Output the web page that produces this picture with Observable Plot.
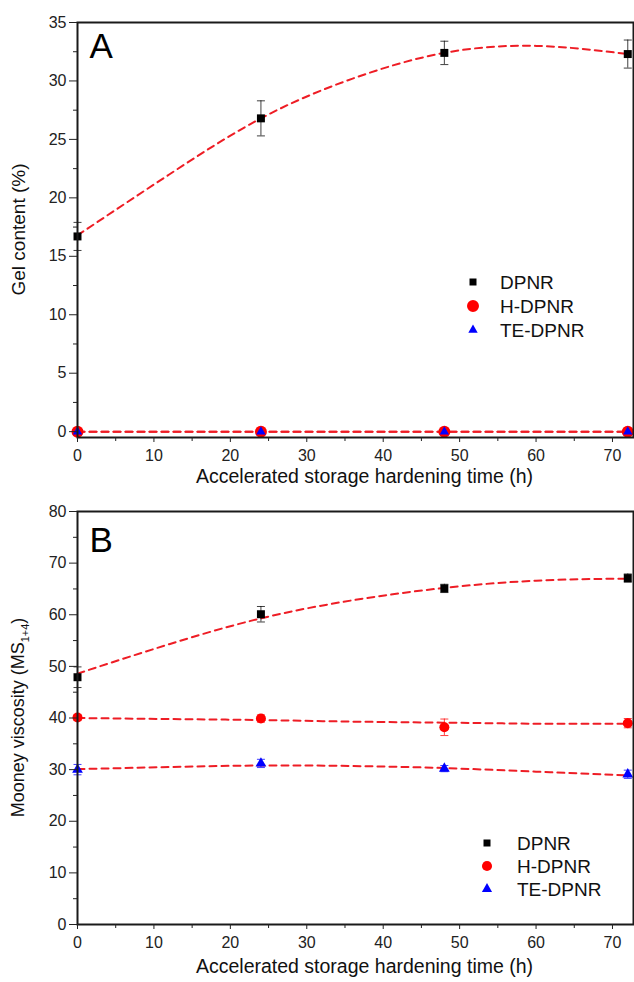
<!DOCTYPE html>
<html>
<head>
<meta charset="utf-8">
<script src="https://cdn.jsdelivr.net/npm/d3@7"></script>
<script src="https://cdn.jsdelivr.net/npm/@observablehq/plot@0.6"></script>
<style>
  body { margin: 0; background: white; }
  #wrap { width: 634px; }
  svg { display: block; }
</style>
</head>
<body>
<div id="wrap"><div id="a"></div><div id="b"></div></div>
<script>
// ---------- data ----------
const times = [0, 24, 48, 72];
const seriesNames = ["DPNR", "H-DPNR", "TE-DPNR"];
const seriesColors = ["#000000", "#ff0000", "#0000ff"];

// Panel A: gel content (%)
const gelDPNR = [16.7, 26.8, 32.4, 32.3];
const gelDPNRErr = [1.2, 1.5, 1.0, 1.2];
const gelH = [0, 0, 0, 0];
const gelHErr = [0, 0, 0, 0];
const gelTE = [0, 0, 0, 0];
const gelTEErr = [0, 0, 0, 0];

// Panel B: Mooney viscosity
const mooDPNR = [47.9, 60.1, 65.1, 67.1];
const mooDPNRErr = [2.0, 1.5, 0.8, 0.8];
const mooH = [40.1, 39.9, 38.2, 39.0];
const mooHErr = [0.6, 0.7, 1.6, 0.9];
const mooTE = [30.0, 31.2, 30.2, 29.1];
const mooTEErr = [1.0, 0.8, 0.6, 0.8];

// fitted (dashed) curves
const fitX = [0, 12, 24, 36, 48, 60, 72];
const fitGelDPNR = [16.8, 22.0, 26.8, 30.2, 32.4, 33.0, 32.3];
const fitGelH = [0, 0, 0, 0, 0, 0, 0];
const fitGelTE = [0, 0, 0, 0, 0, 0, 0];
const fitMooDPNR = [48.6, 54.3, 59.3, 62.8, 65.2, 66.6, 67.0];
const fitMooH = [40.0, 39.8, 39.6, 39.3, 39.1, 38.9, 38.9];
const fitMooTE = [30.1, 30.5, 30.8, 30.7, 30.3, 29.6, 28.9];

// ticks
const xTicks = [0, 10, 20, 30, 40, 50, 60, 70];
const xMinorTicks = [5, 15, 25, 35, 45, 55, 65];
const yTicksA = [0, 5, 10, 15, 20, 25, 30, 35];
const yMinorTicksA = [2.5, 7.5, 12.5, 17.5, 22.5, 27.5, 32.5];
const yTicksB = [0, 10, 20, 30, 40, 50, 60, 70, 80];
const yMinorTicksB = [5, 15, 25, 35, 45, 55, 65, 75];

const xLabel = "Accelerated storage hardening time (h)";
const yLabelA = "Gel content (%)";
const yLabelB = "Mooney viscosity (MS";
const yLabelBSub = "1+4";
const yLabelBEnd = ")";

// ---------- helpers ----------
const FONT = "'Liberation Sans', Arial, sans-serif";
const symbols = ["square", "circle", "triangle"];

function rows(vals, errs, idx) {
  return times.map((t, i) => ({ t, v: vals[i], e: errs[i], s: idx }));
}
function fitRows(vals, idx) {
  return fitX.map((t, i) => ({ t, v: vals[i], s: idx }));
}
const capSymbol = { draw(ctx) { ctx.moveTo(-4, 0); ctx.lineTo(4, 0); } };

function panel(opts) {
  const { points, fits, yDomain, yTicks, yMinor, height, mt, mb, letter, letterDy, radii, xLabelDy } = opts;
  const withErr = points.filter(d => d.e > 0);
  const marks = [];
  for (const f of fits) {
    marks.push(Plot.line(f, { x: "t", y: "v", curve: "natural", stroke: "#ee1d25", strokeWidth: 2, strokeDasharray: "7,5" }));
  }
  marks.push(Plot.ruleX(withErr, { x: "t", y1: d => d.v - d.e, y2: d => d.v + d.e, stroke: d => seriesColors[d.s], strokeWidth: 1, strokeOpacity: 0.75 }));
  marks.push(Plot.dot(withErr, { x: "t", y: d => d.v + d.e, symbol: capSymbol, fill: "none", stroke: d => seriesColors[d.s], strokeWidth: 1, strokeOpacity: 0.75, r: 2 }));
  marks.push(Plot.dot(withErr, { x: "t", y: d => d.v - d.e, symbol: capSymbol, fill: "none", stroke: d => seriesColors[d.s], strokeWidth: 1, strokeOpacity: 0.75, r: 2 }));
  [0, 1, 2].forEach(s => {
    marks.push(Plot.dot(points.filter(d => d.s === s), { x: "t", y: "v", symbol: symbols[s], fill: seriesColors[s], stroke: "none", r: radii[s] }));
  });
  marks.push(Plot.frame({ stroke: "#1a1a1a", strokeWidth: 2 }));
  marks.push(Plot.axisX({ ticks: xTicks, tickSize: 5, tickPadding: 7, label: null, fontSize: 16 }));
  marks.push(Plot.axisX({ ticks: xMinorTicks, tickSize: 4, tickFormat: () => "", label: null }));
  marks.push(Plot.axisY({ ticks: yTicks, tickSize: 8, tickPadding: 3, label: null, fontSize: 16 }));
  marks.push(Plot.axisY({ ticks: yMinor, tickSize: 4, tickFormat: () => "", label: null }));
  marks.push(Plot.text([xLabel], { text: d => d, frameAnchor: "bottom", dy: xLabelDy, dx: 9, fontSize: 19.5, fill: "#111" }));
  marks.push(Plot.text([letter], { text: d => d, frameAnchor: "top-left", lineAnchor: "top", textAnchor: "start", dx: 12, dy: letterDy, fontSize: 35, fill: "#000" }));
  return Plot.plot({
    width: 634, height,
    marginTop: mt, marginBottom: mb, marginLeft: 77, marginRight: 1,
    style: { fontFamily: FONT, fontSize: "16px", color: "#222", background: "white", overflow: "visible" },
    x: { domain: [0, 72.75] },
    y: { domain: yDomain },
    marks
  });
}

function addLegend(svg, x0, tx, ys, sizes) {
  const g = d3.select(svg).append("g")
    .attr("font-family", FONT).attr("font-size", 19).attr("text-anchor", "start");
  const syms = [d3.symbolSquare, d3.symbolCircle, d3.symbolTriangle];
  seriesNames.forEach((name, i) => {
    g.append("path").attr("d", d3.symbol(syms[i], sizes[i])())
      .attr("transform", `translate(${x0},${ys[i]})`).attr("fill", seriesColors[i]);
    g.append("text").attr("x", tx).attr("y", ys[i]).attr("dy", "0.36em")
      .attr("text-anchor", "start").attr("fill", "#111").text(name);
  });
}

function addYLabel(svg, cy, size, parts) {
  const t = d3.select(svg).append("text")
    .attr("font-family", FONT).attr("font-size", size).attr("fill", "#111")
    .attr("text-anchor", "middle")
    .attr("transform", `translate(18,${cy}) rotate(-90)`).attr("dy", "0.35em");
  t.append("tspan").text(parts[0]);
  if (parts.length > 1) {
    t.append("tspan").attr("font-size", 11).attr("dy", "0.45em").text(parts[1]);
    t.append("tspan").attr("dy", "-0.3em").text(parts[2]);
  }
}

// ---------- panel A ----------
const pointsA = [...rows(gelDPNR, gelDPNRErr, 0), ...rows(gelH, gelHErr, 1), ...rows(gelTE, gelTEErr, 2)];
const plotA = panel({
  points: pointsA,
  fits: [fitRows(fitGelDPNR, 0), fitRows(fitGelH, 1), fitRows(fitGelTE, 2)],
  yDomain: [-0.5, 35], yTicks: yTicksA, yMinor: yMinorTicksA,
  height: 496, mt: 22, mb: 59, letter: "A", letterDy: 11,
  radii: [4.5, 6, 3.5], xLabelDy: 45
});
document.getElementById("a").appendChild(plotA);
addLegend(plotA, 473, 500, [282, 306, 330], [49, 113, 38]);
addYLabel(plotA, (22 + (496 - 59)) / 2, 19, [yLabelA]);

// ---------- panel B ----------
const pointsB = [...rows(mooDPNR, mooDPNRErr, 0), ...rows(mooH, mooHErr, 1), ...rows(mooTE, mooTEErr, 2)];
const plotB = panel({
  points: pointsB,
  fits: [fitRows(fitMooDPNR, 0), fitRows(fitMooH, 1), fitRows(fitMooTE, 2)],
  yDomain: [0, 80], yTicks: yTicksB, yMinor: yMinorTicksB,
  height: 486, mt: 15, mb: 58, letter: "B", letterDy: 16,
  radii: [4.5, 5, 4], xLabelDy: 48
});
document.getElementById("b").appendChild(plotB);
addLegend(plotB, 487, 517, [347, 370, 393], [49, 80, 45]);
addYLabel(plotB, (15 + (486 - 58)) / 2, 18, [yLabelB, yLabelBSub, yLabelBEnd]);
</script>
</body>
</html>
